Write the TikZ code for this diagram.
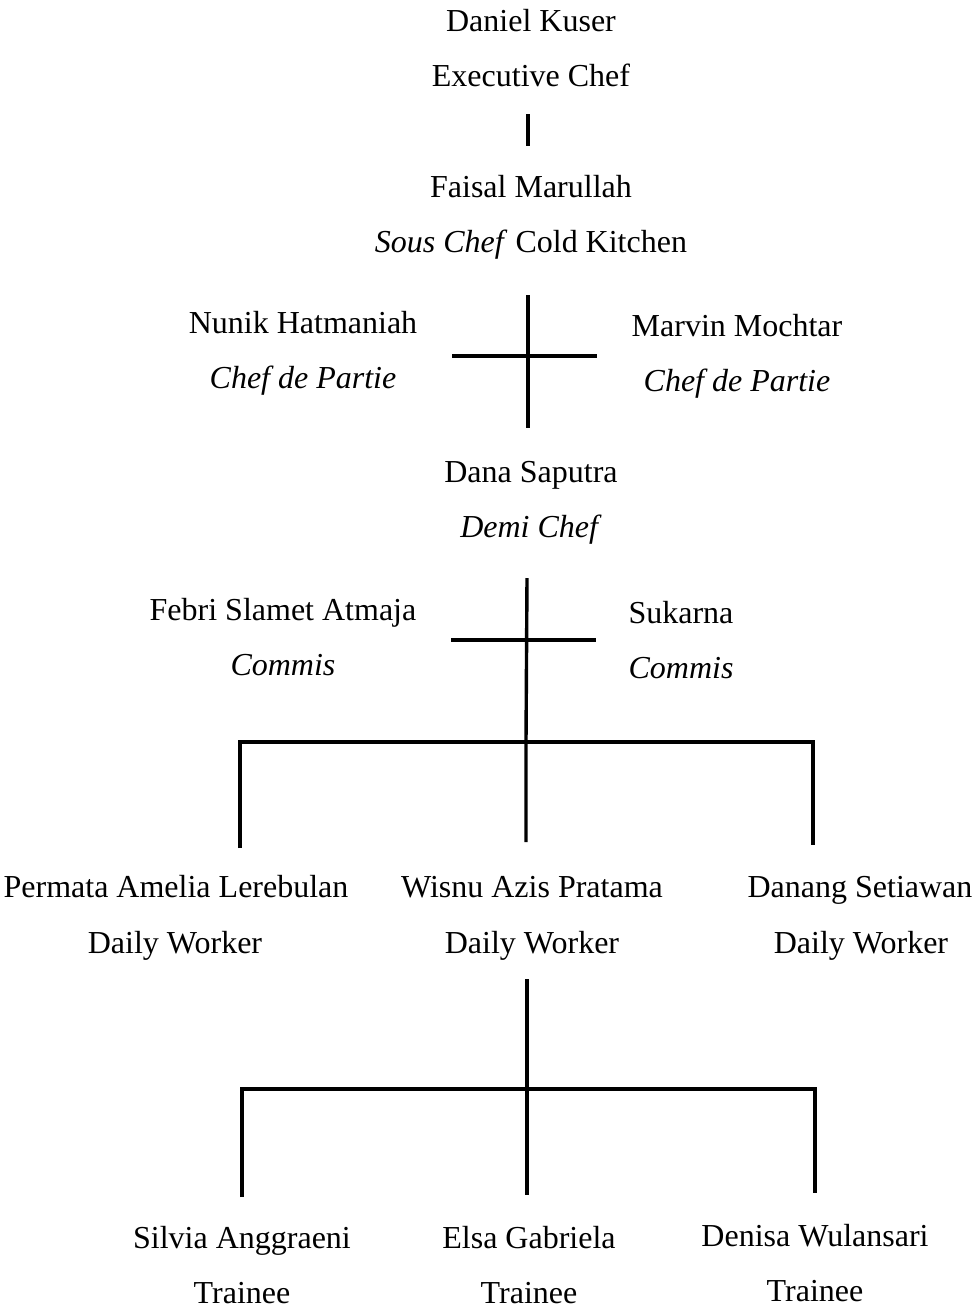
\documentclass[tikz,border=0pt]{standalone}
\usepackage{fontspec}
\setmainfont{Liberation Serif}
\begin{document}
\begin{tikzpicture}[x=1pt,y=-1pt,
  t/.style={anchor=base, inner sep=0pt, font=\fontsize{32}{38}\selectfont},
  ln/.style={line width=3.4pt}]
\useasboundingbox[fill=white] (0,0) rectangle (976,1310);
% texts
\node[t] (dk1) at (531,31) {Daniel Kuser};
\node[t] (dk2) at (531,86) {Executive Chef};
\node[t] (fm1) at (531,197) {Faisal Marullah};
\node[t] (fm2) at (531,252) {\textit{Sous Chef} Cold Kitchen};
\node[t] (nh1) at (303,333) {Nunik Hatmaniah};
\node[t] (nh2) at (303,388) {\textit{Chef de Partie}};
\node[t] (mm1) at (737,336) {Marvin Mochtar};
\node[t] (mm2) at (737,391) {\textit{Chef de Partie}};
\node[t] (ds1) at (531,482) {Dana Saputra};
\node[t] (ds2) at (531,537) {\textit{Demi Chef}};
\node[t] (fs1) at (283,620) {Febri Slamet Atmaja};
\node[t] (fs2) at (283,675) {\textit{Commis}};
\node[t] (sk1) at (681,623) {Sukarna};
\node[t] (sk2) at (681,678) {\textit{Commis}};
\node[t] (pa1) at (176,897) {Permata Amelia Lerebulan};
\node[t] (pa2) at (175,953) {Daily Worker};
\node[t] (wa1) at (532,897) {Wisnu Azis Pratama};
\node[t] (wa2) at (532,953) {Daily Worker};
\node[t] (dg1) at (860,897) {Danang Setiawan};
\node[t] (dg2) at (861,953) {Daily Worker};
\node[t] (sa1) at (242,1248) {Silvia Anggraeni};
\node[t] (sa2) at (242,1303) {Trainee};
\node[t] (eg1) at (529,1248) {Elsa Gabriela};
\node[t] (eg2) at (529,1303) {Trainee};
\node[t] (dw1) at (815,1246) {Denisa Wulansari};
\node[t] (dw2) at (815,1301) {Trainee};
% junction coordinates
\coordinate (a1) at (528,114); \coordinate (a2) at (528,146);
\coordinate (b1) at (528,295); \coordinate (b2) at (528,428);
\coordinate (bl) at (452,356); \coordinate (br) at (597,356);
\coordinate (c1) at (527,578); \coordinate (c2) at (526,742);
\coordinate (cl) at (451,640); \coordinate (cr) at (596,640);
\coordinate (dl) at (240,742); \coordinate (dr) at (813,742);
\coordinate (dl2) at (240,848); \coordinate (dm2) at (526,842);
\coordinate (dr2) at (813,845);
\coordinate (e1) at (527,979); \coordinate (e2) at (527,1089);
\coordinate (el) at (242,1089); \coordinate (er) at (815,1089);
\coordinate (el2) at (242,1197); \coordinate (em2) at (527,1195);
\coordinate (er2) at (815,1193);
% connectors
\draw[ln] (a1) -- (a2);
\draw[ln] (b1) -- (b2);
\draw[ln] (bl) -- (br);
\draw[ln] (c1) -- (c2) -- (dm2);
\draw[ln] (cl) -- (cr);
\draw[ln] (dl2) -- (dl) -- (dr) -- (dr2);
\draw[ln] (e1) -- (em2);
\draw[ln] (el2) -- (el) -- (er) -- (er2);
\end{tikzpicture}
\end{document}
